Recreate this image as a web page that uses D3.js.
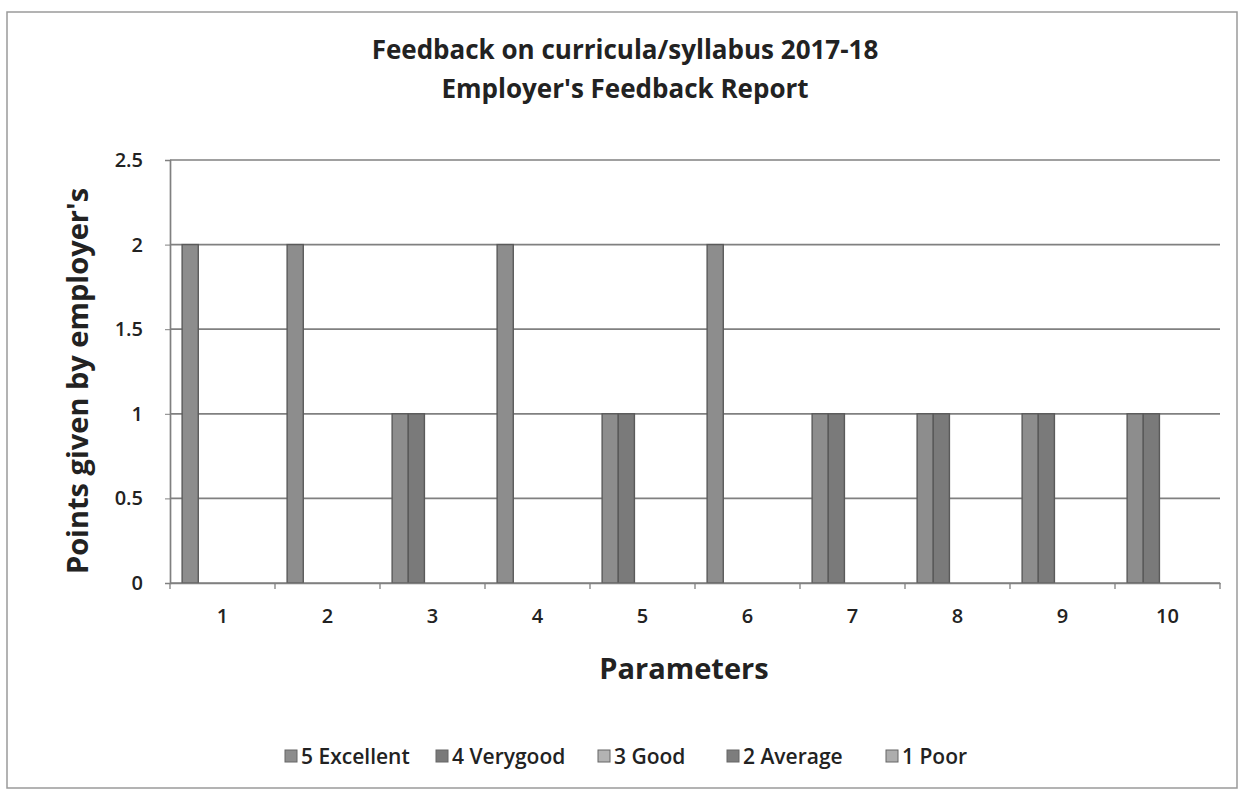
<!DOCTYPE html>
<html>
<head>
<meta charset="utf-8">
<script src="https://cdn.jsdelivr.net/npm/d3@7"></script>
<style>
  body { margin: 0; background: #fff; }
  text { font-family: "Open Sans", "Noto Sans", sans-serif; fill: #222; }
</style>
</head>
<body>
<div class="chart"></div>
<script>
const params = ['1', '2', '3', '4', '5', '6', '7', '8', '9', '10'];
const seriesNames = ['5 Excellent', '4 Verygood', '3 Good', '2 Average', '1 Poor'];
const excellent = [2, 2, 1, 2, 1, 2, 1, 1, 1, 1];
const verygood = [0, 0, 1, 0, 1, 0, 1, 1, 1, 1];
const good = [0, 0, 0, 0, 0, 0, 0, 0, 0, 0];
const average = [0, 0, 0, 0, 0, 0, 0, 0, 0, 0];
const poor = [0, 0, 0, 0, 0, 0, 0, 0, 0, 0];
const yTicks = [0, 0.5, 1, 1.5, 2, 2.5];

const seriesValues = [excellent, verygood, good, average, poor];
const fills = ['#8d8d8d', '#7a7a7a', '#b3b3b3', '#7d7d7d', '#adadad'];

const width = 1244;
const height = 792;
const plot = { left: 170, right: 1220, top: 160, bottom: 583 };

const svg = d3.select('.chart').append('svg')
  .attr('width', width)
  .attr('height', height);

// outer frame
svg.append('rect')
  .attr('x', 7).attr('y', 12)
  .attr('width', 1230).attr('height', 776)
  .attr('fill', 'none')
  .attr('stroke', '#9a9a9a')
  .attr('stroke-width', 1.5);

const x = d3.scaleBand()
  .domain(params)
  .range([plot.left, plot.right]);

// Excel-like gap width 150%
const slot = x.bandwidth() / (seriesNames.length + 1.5);
const slotX = i => slot * 0.75 + i * slot;

const y = d3.scaleLinear()
  .domain([0, 2.5])
  .range([plot.bottom, plot.top]);

// gridlines
svg.append('g')
  .selectAll('line')
  .data(yTicks)
  .enter()
  .append('line')
  .attr('x1', plot.left)
  .attr('x2', plot.right)
  .attr('y1', d => y(d))
  .attr('y2', d => y(d))
  .attr('stroke', '#808080')
  .attr('stroke-width', 1.7);

// bars
const rows = [];
params.forEach((p, ci) => {
  seriesValues.forEach((vals, si) => {
    if (vals[ci] > 0) rows.push({ p, si, v: vals[ci] });
  });
});
svg.append('g')
  .selectAll('rect')
  .data(rows)
  .enter()
  .append('rect')
  .attr('x', d => x(d.p) + slotX(d.si))
  .attr('y', d => y(d.v))
  .attr('width', slot)
  .attr('height', d => y(0) - y(d.v))
  .attr('fill', d => fills[d.si])
  .attr('stroke', '#5a5a5a')
  .attr('stroke-width', 1.4);

// y axis
const yAxis = svg.append('g')
  .attr('transform', `translate(${plot.left},0)`)
  .call(d3.axisLeft(y).tickValues(yTicks).tickSize(5).tickPadding(22)
    .tickFormat(d => d3.format('')(d)));
yAxis.select('.domain').attr('stroke', '#808080').attr('stroke-width', 1.7);
yAxis.selectAll('.tick line').attr('stroke', '#808080');
yAxis.selectAll('.tick text')
  .style('font-size', '20px')
  .style('font-weight', '600')
  .style('fill', '#222')
  .style('font-family', '"Open Sans", sans-serif');

// x axis
const xAxis = svg.append('g')
  .attr('transform', `translate(0,${plot.bottom})`)
  .call(d3.axisBottom(x).tickSize(0).tickPadding(26));
xAxis.select('.domain').attr('stroke', '#808080').attr('stroke-width', 1.7);
xAxis.selectAll('.tick text')
  .style('font-size', '20px')
  .style('font-weight', '600')
  .style('fill', '#222')
  .style('font-family', '"Open Sans", sans-serif');
svg.append('g')
  .selectAll('line')
  .data(params.concat(['end']))
  .enter()
  .append('line')
  .attr('x1', (d, i) => plot.left + i * x.bandwidth())
  .attr('x2', (d, i) => plot.left + i * x.bandwidth())
  .attr('y1', plot.bottom)
  .attr('y2', plot.bottom + 6)
  .attr('stroke', '#808080')
  .attr('stroke-width', 1.3);

// titles
svg.append('text')
  .attr('x', 625).attr('y', 59)
  .attr('text-anchor', 'middle')
  .style('font-size', '26px').style('font-weight', 'bold')
  .text('Feedback on curricula/syllabus 2017-18');
svg.append('text')
  .attr('x', 625).attr('y', 98)
  .attr('text-anchor', 'middle')
  .style('font-size', '26px').style('font-weight', 'bold')
  .text("Employer's Feedback Report");

svg.append('text')
  .attr('x', 684).attr('y', 679)
  .attr('text-anchor', 'middle')
  .style('font-size', '29px').style('font-weight', 'bold')
  .text('Parameters');

svg.append('text')
  .attr('transform', 'translate(88,381) rotate(-90)')
  .attr('text-anchor', 'middle')
  .style('font-size', '29px').style('font-weight', 'bold')
  .text("Points given by employer's");

// legend
const legendX = [285, 436, 598, 727, 886];
const legend = svg.append('g')
  .selectAll('g')
  .data(seriesNames)
  .enter()
  .append('g')
  .attr('transform', (d, i) => `translate(${legendX[i]},757)`);
legend.append('rect')
  .attr('x', 0).attr('y', -7)
  .attr('width', 12).attr('height', 12)
  .attr('fill', (d, i) => fills[i])
  .attr('stroke', '#666')
  .attr('stroke-width', 1);
legend.append('text')
  .attr('x', 16).attr('y', 7)
  .style('font-size', '21px')
  .style('font-weight', '600')
  .text(d => d);
</script>
</body>
</html>
